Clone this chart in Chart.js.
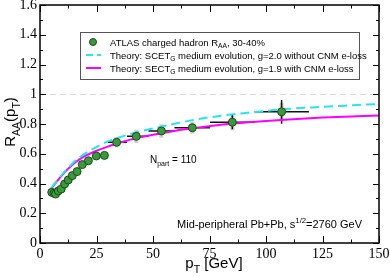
<!DOCTYPE html>
<html>
<head>
<meta charset="utf-8">
<script src="https://cdn.jsdelivr.net/npm/chart.js@4"></script>
<style>
html,body{margin:0;padding:0;background:#fff;}
#wrap{width:390px;height:277px;position:relative;}
</style>
</head>
<body>
<div id="wrap"><canvas id="c" width="390" height="277"></canvas></div>
<script>
// ATLAS charged hadron RAA, 30-40%
const atlasPt   = [5.2, 6.2, 6.9, 8.1, 9.4, 10.9, 12.5, 14.3, 16.4, 18.7, 21.4, 24.9, 28.5, 33.9, 42.6, 53.7, 67.4, 85.1, 106.9];
const atlasRaa  = [0.341, 0.334, 0.329, 0.350, 0.363, 0.397, 0.424, 0.453, 0.480, 0.527, 0.553, 0.585, 0.589, 0.677, 0.717, 0.753, 0.775, 0.812, 0.882];
const atlasStat = [0.005, 0.005, 0.005, 0.005, 0.005, 0.006, 0.006, 0.006, 0.007, 0.007, 0.008, 0.009, 0.010, 0.012, 0.012, 0.015, 0.020, 0.048, 0.080];
const atlasSys  = [0.015, 0.015, 0.015, 0.015, 0.016, 0.018, 0.018, 0.020, 0.020, 0.022, 0.022, 0.024, 0.025, 0.035, 0.045, 0.045, 0.040, 0.055, 0.060];
const atlasBinLo = [null, null, null, null, null, null, null, null, null, null, null, null, null, 30.0, 38.5, 48.0, 59.5, 75.2, 95.0];
const atlasBinHi = [null, null, null, null, null, null, null, null, null, null, null, null, null, 38.5, 48.0, 59.5, 75.2, 95.0, 119.0];

// Theory curves
const theoryPt   = [5, 7.5, 10, 12.5, 15, 17.5, 20, 25, 30, 35, 40, 50, 60, 70, 80, 90, 100, 110, 125, 140, 150];
const scetNoCnm  = [0.370, 0.420, 0.465, 0.507, 0.545, 0.575, 0.602, 0.645, 0.683, 0.710, 0.733, 0.770, 0.803, 0.833, 0.855, 0.873, 0.888, 0.902, 0.915, 0.927, 0.935];
const scetCnm    = [0.365, 0.415, 0.460, 0.500, 0.535, 0.562, 0.585, 0.620, 0.648, 0.672, 0.695, 0.728, 0.755, 0.776, 0.795, 0.809, 0.820, 0.830, 0.843, 0.852, 0.857];

// Axis ticks
const xMajorTicks = [0, 25, 50, 75, 100, 125, 150];
const xMinorTicks = [12.5, 37.5, 62.5, 87.5, 112.5, 137.5];
const yMajorTicks = [0, 0.2, 0.4, 0.6, 0.8, 1.0, 1.2, 1.4, 1.6];
const yMinorTicks = [0.1, 0.3, 0.5, 0.7, 0.9, 1.1, 1.3, 1.5];

const legendLabels = [
  [["ATLAS charged hadron R","n"],["AA","sub"],[", 30-40%","n"]],
  [["Theory: SCET","n"],["G","sub"],[" medium evolution, g=2.0 without CNM e-loss","n"]],
  [["Theory: SECT","n"],["G","sub"],[" medium evolution, g=1.9 with CNM e-loss","n"]]
];

const SANS = '"Liberation Sans", Arial, sans-serif';
const SERIF = '"Liberation Serif", "Times New Roman", serif';

function richWidth(ctx, parts, size){
  let w = 0;
  for (const [t, m] of parts){
    ctx.font = (m === 'n' ? size : size*0.7) + 'px ' + SANS;
    w += ctx.measureText(t).width;
  }
  return w;
}
function drawRich(ctx, parts, x, y, size, align){
  ctx.save();
  ctx.textBaseline = 'alphabetic';
  ctx.textAlign = 'left';
  let cx = x;
  if (align === 'center') cx = x - richWidth(ctx, parts, size)/2;
  else if (align === 'right') cx = x - richWidth(ctx, parts, size);
  for (const [t, m] of parts){
    let s = size, dy = 0;
    if (m === 'sub'){ s = size*0.7; dy = size*0.3; }
    if (m === 'sup'){ s = size*0.7; dy = -size*0.45; }
    ctx.font = s + 'px ' + SANS;
    ctx.fillText(t, cx, y + dy);
    cx += ctx.measureText(t).width;
  }
  ctx.restore();
}

const errorBars = {
  id: 'errorBars',
  beforeDatasetsDraw(chart){
    const ctx = chart.ctx, xs = chart.scales.x, ys = chart.scales.y;
    const a = chart.chartArea;
    ctx.save();
    // dashed line at 1
    ctx.strokeStyle = '#d8d8d8';
    ctx.lineWidth = 1;
    ctx.setLineDash([6,4]);
    ctx.beginPath();
    const y1 = Math.round(ys.getPixelForValue(1)) + 0.5;
    ctx.moveTo(a.left, y1); ctx.lineTo(a.right, y1);
    ctx.stroke();
    ctx.setLineDash([]);
    // systematic bands (grey)
    ctx.strokeStyle = '#cfcfcf';
    ctx.lineWidth = 4;
    for (let i = 0; i < atlasPt.length; i++){
      const px = xs.getPixelForValue(atlasPt[i]);
      ctx.beginPath();
      ctx.moveTo(px, ys.getPixelForValue(atlasRaa[i] - atlasSys[i]));
      ctx.lineTo(px, ys.getPixelForValue(atlasRaa[i] + atlasSys[i]));
      ctx.stroke();
    }
    // statistical + bin widths (black)
    ctx.strokeStyle = '#111';
    ctx.lineWidth = 1.5;
    for (let i = 0; i < atlasPt.length; i++){
      const px = xs.getPixelForValue(atlasPt[i]);
      const py = ys.getPixelForValue(atlasRaa[i]);
      ctx.beginPath();
      ctx.moveTo(px, ys.getPixelForValue(atlasRaa[i] - atlasStat[i]));
      ctx.lineTo(px, ys.getPixelForValue(atlasRaa[i] + atlasStat[i]));
      if (atlasBinLo[i] !== null){
        ctx.moveTo(xs.getPixelForValue(atlasBinLo[i]), py);
        ctx.lineTo(xs.getPixelForValue(atlasBinHi[i]), py);
      }
      ctx.stroke();
    }
    ctx.restore();
  },
  afterDraw(chart){
    const ctx = chart.ctx, xs = chart.scales.x, ys = chart.scales.y;
    const a = chart.chartArea;
    ctx.save();
    // frame
    ctx.strokeStyle = '#000';
    ctx.lineWidth = 1.5;
    ctx.strokeRect(a.left, a.top, a.right - a.left, a.bottom - a.top);
    ctx.lineWidth = 1;
    ctx.beginPath();
    for (const v of xMajorTicks){
      const p = Math.round(xs.getPixelForValue(v)) + 0.5;
      ctx.moveTo(p, a.bottom); ctx.lineTo(p, a.bottom - 7);
      ctx.moveTo(p, a.top); ctx.lineTo(p, a.top + 7);
    }
    for (const v of xMinorTicks){
      const p = Math.round(xs.getPixelForValue(v)) + 0.5;
      ctx.moveTo(p, a.bottom); ctx.lineTo(p, a.bottom - 3.5);
      ctx.moveTo(p, a.top); ctx.lineTo(p, a.top + 3.5);
    }
    for (const v of yMajorTicks){
      const p = Math.round(ys.getPixelForValue(v)) + 0.5;
      ctx.moveTo(a.left, p); ctx.lineTo(a.left + 6, p);
      ctx.moveTo(a.right, p); ctx.lineTo(a.right - 6, p);
    }
    for (const v of yMinorTicks){
      const p = Math.round(ys.getPixelForValue(v)) + 0.5;
      ctx.moveTo(a.left, p); ctx.lineTo(a.left + 3, p);
      ctx.moveTo(a.right, p); ctx.lineTo(a.right - 3, p);
    }
    ctx.stroke();

    // legend box
    const lx = 80.5, ly = 32.5, lw = 279, lh = 47;
    ctx.fillStyle = '#fff';
    ctx.fillRect(lx, ly, lw, lh);
    ctx.strokeStyle = '#555';
    ctx.lineWidth = 1;
    ctx.strokeRect(lx, ly, lw, lh);
    const rows = [42, 55, 68];
    // marker
    ctx.beginPath();
    ctx.arc(93, rows[0], 3.5, 0, Math.PI*2);
    ctx.fillStyle = '#3a9a3a'; ctx.fill();
    ctx.strokeStyle = '#1c4a1c'; ctx.lineWidth = 1; ctx.stroke();
    // cyan dash sample
    ctx.strokeStyle = '#22e6f2'; ctx.lineWidth = 2;
    ctx.setLineDash([7,4]);
    ctx.beginPath(); ctx.moveTo(86, rows[1]); ctx.lineTo(101, rows[1]); ctx.stroke();
    ctx.setLineDash([]);
    ctx.strokeStyle = '#ff00ff';
    ctx.beginPath(); ctx.moveTo(86, rows[2]); ctx.lineTo(101, rows[2]); ctx.stroke();
    ctx.fillStyle = '#000';
    for (let i = 0; i < 3; i++) drawRich(ctx, legendLabels[i], 110, rows[i] + 3.5, 9.5, 'left');

    // annotations
    drawRich(ctx, [["N","n"],["part","sub"],[" = 110","n"]], 150, 163, 10, 'left');
    drawRich(ctx, [["Mid-peripheral Pb+Pb, s","n"],["1/2","sup"],["=2760 GeV","n"]], 362, 228, 11, 'right');

    // axis titles
    ctx.fillStyle = '#000';
    drawRich(ctx, [["p","n"],["T","sub"],[" [GeV]","n"]], 214, 268, 15, 'center');
    ctx.save();
    ctx.translate(15, 122);
    ctx.rotate(-Math.PI/2);
    drawRich(ctx, [["R","n"],["AA","sub"],["(p","n"],["T","sub"],[")","n"]], 0, 0, 15, 'center');
    ctx.restore();
    ctx.restore();
  }
};

const atlasPoints = atlasPt.map((x, i) => ({x, y: atlasRaa[i]}));
const cyanPoints = theoryPt.map((x, i) => ({x, y: scetNoCnm[i]}));
const magPoints = theoryPt.map((x, i) => ({x, y: scetCnm[i]}));

new Chart(document.getElementById('c'), {
  type: 'scatter',
  data: {
    datasets: [
      {label: 'ATLAS', data: atlasPoints, pointRadius: 4, pointBackgroundColor: '#3a9a3a', pointBorderColor: '#1c4a1c', pointBorderWidth: 1, showLine: false},
      {label: 'SCET no CNM', data: cyanPoints, showLine: true, borderColor: '#22e6f2', borderWidth: 2, borderDash: [9,5], pointRadius: 0, cubicInterpolationMode: 'monotone', fill: false},
      {label: 'SCET CNM', data: magPoints, showLine: true, borderColor: '#ff00ff', borderWidth: 2, pointRadius: 0, cubicInterpolationMode: 'monotone', fill: false}
    ]
  },
  options: {
    responsive: false,
    animation: false,
    events: [],
    layout: {padding: {top: 5, right: 11, left: 0, bottom: 0}},
    plugins: {legend: {display: false}, tooltip: {enabled: false}},
    scales: {
      x: {
        type: 'linear', min: 0, max: 150,
        border: {display: false},
        grid: {display: false, drawTicks: false},
        ticks: {stepSize: 25, padding: 3, color: '#000', font: {family: SERIF, size: 14}, maxRotation: 0, autoSkip: false},
        afterFit(s){ s.height = 34; s.paddingLeft = 0; s.paddingRight = 0; }
      },
      y: {
        type: 'linear', min: 0, max: 1.6,
        border: {display: false},
        grid: {display: false, drawTicks: false},
        ticks: {stepSize: 0.2, padding: 3, color: '#000', font: {family: SERIF, size: 14}, autoSkip: false,
          callback: v => String(Math.round(v*10)/10)},
        afterFit(s){ s.width = 40; s.paddingTop = 0; s.paddingBottom = 0; }
      }
    }
  },
  plugins: [errorBars]
});
</script>
</body>
</html>
